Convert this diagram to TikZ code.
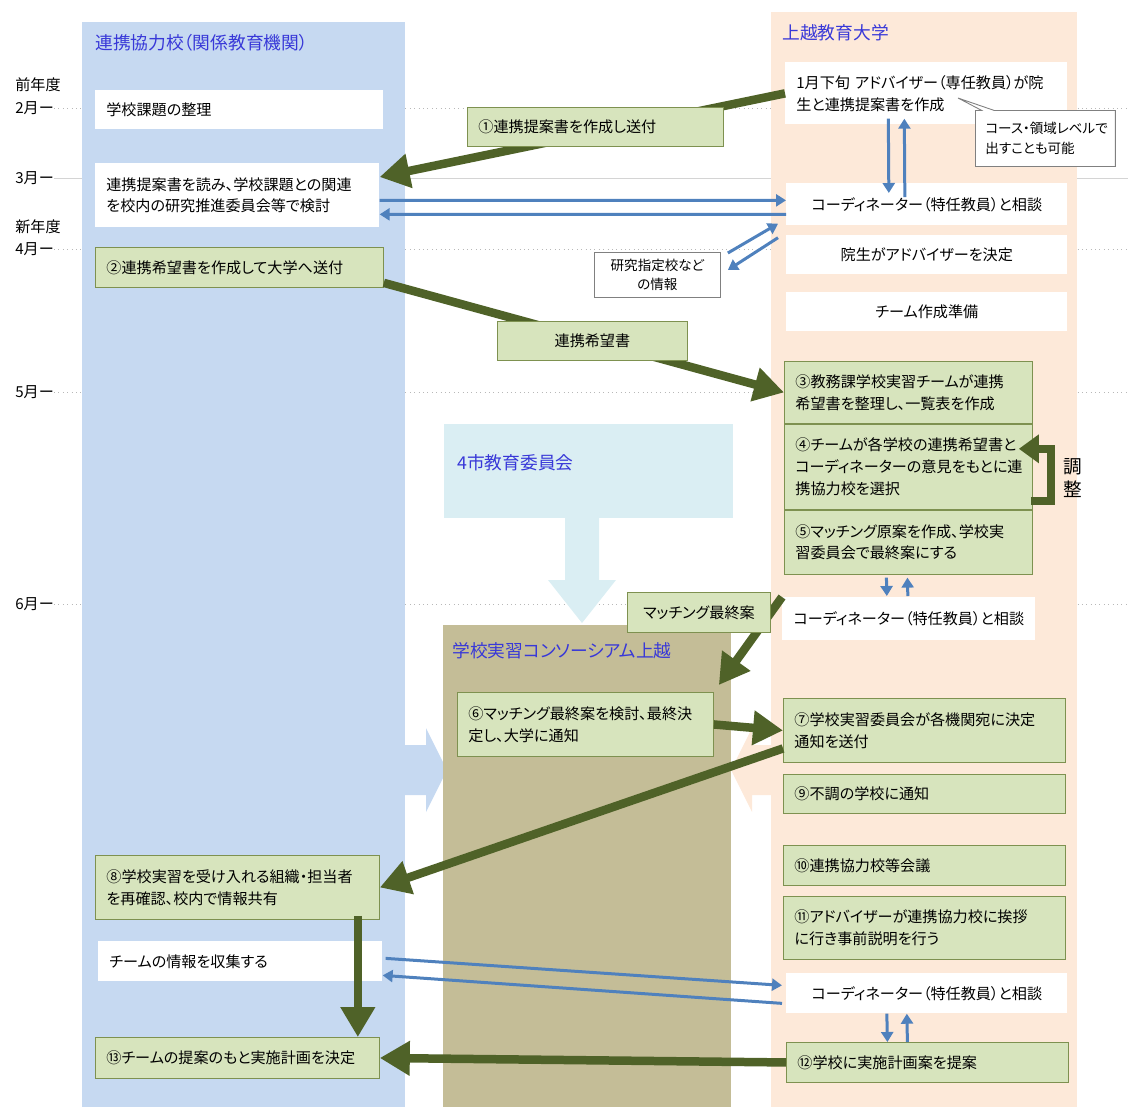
\documentclass[tikz,border=0pt]{standalone}
\usepackage{fontspec}
\setmainfont{Noto Sans CJK JP}[RawFeature=+palt]
\usetikzlibrary{arrows.meta,positioning,calc,shapes.callouts}
\definecolor{Olive}{HTML}{4F6228}
\definecolor{Leaf}{HTML}{D7E4BD}
\definecolor{LeafEdge}{HTML}{7E9150}
\definecolor{Steel}{HTML}{4F81BD}
\definecolor{LaneBlue}{HTML}{C6D9F1}
\definecolor{LanePeach}{HTML}{FDE9D9}
\definecolor{Board}{HTML}{DAEEF3}
\definecolor{Khaki}{HTML}{C4BD97}
\definecolor{Title}{HTML}{3838D8}
\definecolor{Grid}{HTML}{B8B8B8}
\newcommand\bodysize{\fontsize{8.6pt}{12.4pt}\selectfont}
\newcommand\headsize{\fontsize{10.1pt}{12pt}\selectfont}
\newcommand\notesize{\fontsize{7.7pt}{11pt}\selectfont}
\tikzset{
  wbox/.style={fill=white,anchor=north west,align=left,inner xsep=.22cm,inner ysep=0pt,font=\bodysize},
  gbox/.style={wbox,fill=Leaf,draw=LeafEdge,line width=.5pt},
  tag/.style={fill=Leaf,draw=LeafEdge,line width=.5pt,align=center,inner sep=0pt,font=\bodysize},
  note/.style={fill=white,draw=gray,line width=.5pt,align=left,font=\notesize},
  head/.style={anchor=west,text=Title,inner sep=0pt,font=\headsize},
  month/.style={anchor=west,inner sep=0pt,font=\bodysize},
  flow/.style={-{Triangle[length=.6cm,width=.66cm]},draw=Olive,line width=.17cm},
  info/.style={-{Triangle[length=.2cm,width=.24cm]},draw=Steel,line width=.06cm},
  gridline/.style={draw=Grid,line width=.5pt,dotted}
}
\begin{document}
\begin{tikzpicture}[x=0.02cm,y=-0.02cm]
        \useasboundingbox (0,0) rectangle (1128,1107);
        \coordinate (edge) at (1128,0);

        % months
        \node[month] (m0) at (15,85) {前年度};
        \node[month] (m2) at (15,108) {2月ー};
        \node[month] (m3) at (15,178) {3月ー};
        \node[month] (m4a) at (15,227) {新年度};
        \node[month] (m4) at (15,249) {4月ー};
        \node[month] (m5) at (15,392) {5月ー};
        \node[month] (m6) at (15,604) {6月ー};
        \foreach \m in {m2,m4,m5,m6}
          \draw[gridline] (\m.east) -- (\m.east -| edge);
        \draw[draw=Grid!60,line width=.5pt] (m3.east) -- (m3.east -| edge);

        % lanes
        \fill[LaneBlue] (82,22) rectangle (405,1107);
        \fill[LanePeach] (771,12) rectangle (1077,1107);
        \fill[Board] (444,424) rectangle (733,518);
        \fill[Board] (565,517) -- (599,517) -- (599,580) -- (616,580) -- (582,623) -- (548,580) -- (565,580) -- cycle;
        \fill[LaneBlue] (404,745) -- (426,745) -- (426,728) -- (447,770) -- (426,812) -- (426,795) -- (404,795) -- cycle;
        \fill[LanePeach] (772,745) -- (752,745) -- (752,728) -- (731,770) -- (752,812) -- (752,795) -- (772,795) -- cycle;
        \fill[Khaki] (443,625) rectangle (731,1107);

        \node[head] (school) at (95,43) {連携協力校（関係教育機関）};
        \node[head] (univ) at (782,33) {上越教育大学};
        \node[head] (board) at (457,463) {4市教育委員会};
        \node[head] (consort) at (452,651) {学校実習コンソーシアム上越};

        % partner school
        \node[wbox,text width=5.32cm,minimum height=.78cm] (issue) at (95,90) {学校課題の整理};
        \node[wbox,text width=5.24cm,minimum height=1.28cm] (read) at (95,163) {連携提案書を読み、学校課題との関連\\を校内の研究推進委員会等で検討};
        \node[gbox,text width=5.32cm,minimum height=.8cm] (wish) at (95,247) {②連携希望書を作成して大学へ送付};
        \node[gbox,text width=5.24cm,minimum height=1.28cm] (accept) at (95,855) {⑧学校実習を受け入れる組織・担当者\\を再確認、校内で情報共有};
        \node[wbox,text width=5.24cm,minimum height=.8cm] (team) at (98,941) {チームの情報を収集する};
        \node[gbox,text width=5.24cm,minimum height=.82cm] (plan) at (95,1037) {⑬チームの提案のもと実施計画を決定};

        % university
        \node[wbox,text width=5.2cm,minimum height=1.24cm] (adv) at (785,62) {1月下旬\ アドバイザー（専任教員）が院\\生と連携提案書を作成};
        \node[note,rectangle callout,callout absolute pointer={(958,98)},anchor=north west,text width=2.4cm,minimum height=1.12cm,inner xsep=.2cm,inner ysep=0pt] (remark) at (975,110) {コース・領域レベルで\\出すことも可能};
        \node[wbox,align=center,text width=5.18cm,minimum height=.84cm] (coord1) at (786,183) {コーディネーター（特任教員）と相談};
        \node[wbox,align=center,text width=5.18cm,minimum height=.78cm,below=.18cm of coord1.south west,anchor=north west] (pick) {院生がアドバイザーを決定};
        \node[wbox,align=center,text width=5.18cm,minimum height=.78cm] (prep) at (786,292) {チーム作成準備};
        \node[gbox,text width=4.52cm,minimum height=1.24cm] (sort) at (784,361) {③教務課学校実習チームが連携\\希望書を整理し、一覧表を作成};
        \node[gbox,text width=4.52cm,minimum height=1.7cm,below=0cm of sort.south west,anchor=north west] (select) {④チームが各学校の連携希望書と\\コーディネーターの意見をもとに連\\携協力校を選択};
        \node[gbox,text width=4.52cm,minimum height=1.28cm,below=0cm of select.south west,anchor=north west] (draft) {⑤マッチング原案を作成、学校実\\習委員会で最終案にする};
        \node[wbox,align=center,text width=4.62cm,minimum height=.86cm] (coord2) at (782,597) {コーディネーター（特任教員）と相談};
        \node[gbox,text width=5.2cm,minimum height=1.28cm] (notice) at (783,698) {⑦学校実習委員会が各機関宛に決定\\通知を送付};
        \node[gbox,text width=5.2cm,minimum height=.78cm,below=.22cm of notice.south west,anchor=north west] (fail) {⑨不調の学校に通知};
        \node[gbox,text width=5.2cm,minimum height=.8cm] (meet) at (783,845) {⑩連携協力校等会議};
        \node[gbox,text width=5.2cm,minimum height=1.26cm,below=.2cm of meet.south west,anchor=north west] (visit) {⑪アドバイザーが連携協力校に挨拶\\に行き事前説明を行う};
        \node[wbox,align=center,text width=5.18cm,minimum height=.8cm] (coord3) at (786,973) {コーディネーター（特任教員）と相談};
        \node[gbox,text width=5.2cm,minimum height=.8cm] (propose) at (786,1042) {⑫学校に実施計画案を提案};

        % consortium and middle
        \node[note,align=center,anchor=north west,minimum width=2.52cm,minimum height=.9cm,inner sep=0pt] (research) at (594,252) {研究指定校など\\の情報};
        \node[gbox,text width=4.68cm,minimum height=1.28cm] (match) at (457,692) {⑥マッチング最終案を検討、最終決\\定し、大学に通知};

        \draw[flow] (adv.west) -- ($(read.north east)+(0,14)$);
        \draw[flow] ($(wish.south east)+(0,-5)$) -- (sort.west);
        \draw[flow] (coord2.north west) -- ($(match.north east)+(5,-7)$);
        \draw[flow] (match.east) -- (notice.west);
        \draw[flow] ($(notice.west)+(0,18)$) -- (accept.east);
        \draw[flow] ($(accept.south east)+(-22,-4)$) -- ($(plan.north east)+(-22,0)$);
        \draw[flow] (propose.west) -- (plan.east);
        \draw[flow,-{Triangle[length=.4cm,width=.55cm]}] ($(select.east)+(-2,34)$) -- ++(20,0) |- ($(select.east)+(-14,-18)$);
        \node[font=\fontsize{10.6pt}{12.6pt}\selectfont,align=center,inner sep=0pt] (adjust) at (1073,478) {調\\整};

        \draw[info] ($(adv.south)+(-38,-6)$) -- ($(coord1.north)+(-38,10)$);
        \draw[info] ($(coord1.north)+(-22,14)$) -- ($(adv.south)+(-22,-6)$);
        \draw[info] ($(read.east)+(0,5)$) -- ($(coord1.west)+(0,-4)$);
        \draw[info] ($(coord1.west)+(0,10)$) -- ($(read.east)+(0,19)$);
        \draw[info] ($(research.north east)+(7,1)$) -- ($(coord1.south west)+(-8,-2)$);
        \draw[info] ($(coord1.south west)+(-8,12)$) -- ($(research.north east)+(7,18)$);
        \draw[info] ($(draft.south)+(-22,3)$) -- ($(coord2.north)+(-22,-1)$);
        \draw[info] ($(coord2.north)+(-1,-1)$) -- ($(draft.south)+(-1,3)$);
        \draw[info] ($(team.east)+(3,-3)$) -- ($(coord3.west)+(-4,-8)$);
        \draw[info] ($(coord3.west)+(-4,10)$) -- ($(team.east)+(0,14)$);
        \draw[info] ($(coord3.south)+(-40,0)$) -- ($(propose.north)+(-40,0)$);
        \draw[info] ($(propose.north)+(-20,0)$) -- ($(coord3.south)+(-20,0)$);

        % labels on the arrows
        \node[gbox,text width=4.68cm,minimum height=.78cm] (sendtag) at (467,107) {①連携提案書を作成し送付};
        \node[tag,anchor=north west,minimum width=3.8cm,minimum height=.78cm] (wishtag) at (497,321) {連携希望書};
        \node[tag,anchor=north west,minimum width=2.86cm,minimum height=.8cm] (finaltag) at (627,592) {マッチング最終案};
\end{tikzpicture}
\end{document}
